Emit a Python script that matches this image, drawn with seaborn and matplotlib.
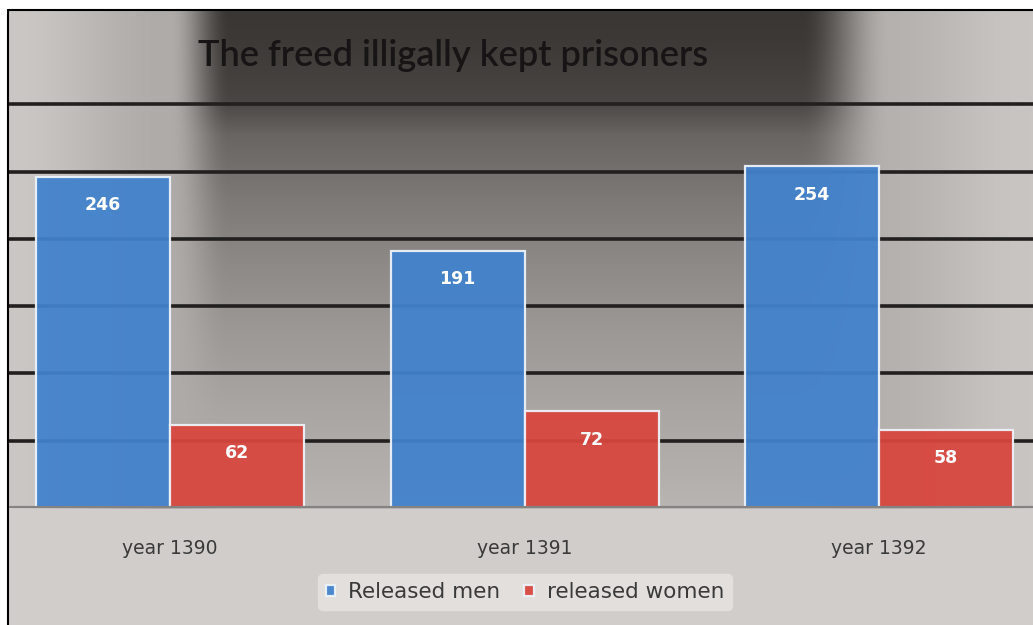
import numpy as np
import pandas as pd
import matplotlib
matplotlib.use("Agg")
import matplotlib.pyplot as plt
import seaborn as sns

# Chart data
years = ["year 1390", "year 1391", "year 1392"]
released_men = [246, 191, 254]
released_women = [62, 72, 58]
series_names = ["Released men", "released women"]
series_colors = ["#4282cd", "#d8463e"]

df = pd.DataFrame({
    "year": years * 2,
    "count": released_men + released_women,
    "group": [series_names[0]] * len(years) + [series_names[1]] * len(years),
})

sns.set_theme(style="white")
plt.rcParams["font.family"] = ["DejaVu Sans"]

W, H = 1033, 625
fig = plt.figure(figsize=(W / 100, H / 100), dpi=100)
fig.patch.set_facecolor("white")

# Metallic gradient backdrop of the chart frame
fx0, fy0 = 8, 10
fw, fh = W - fx0, H - fy0
xs = np.arange(fw) + fx0
ys = np.arange(fh) + fy0

def smooth(t):
    t = np.clip(t, 0, 1)
    return t * t * (3 - 2 * t)

mask_x = smooth((xs - 170) / 60.0) * (1 - smooth((xs - 800) / 90.0))
edge_x = np.where(xs < 400, 200 - 28 * smooth((xs - 8) / 160.0),
                  178 + 20 * smooth((xs - 880) / 150.0))
centre_y = np.interp(ys, [10, 40, 100, 135, 205, 270, 335, 405, 475, 508],
                     [55, 58, 70, 102, 124, 140, 154, 166, 176, 182])
val = edge_x[None, :] * (1 - mask_x[None, :]) + centre_y[:, None] * mask_x[None, :]
val[ys >= 509, :] = 206
rgb = np.stack([val + 2, val - 1, val - 4], axis=-1) / 255.0
rgb = np.clip(rgb, 0, 1)

bg = fig.add_axes([fx0 / W, 0, fw / W, fh / H])
bg.imshow(rgb, aspect="auto", interpolation="bilinear", extent=[0, 1, 0, 1])
bg.set_axis_off()
# frame border on left and top
fig.add_artist(plt.Line2D([fx0 / W, fx0 / W], [0, fh / H], color="black", lw=1.5))
fig.add_artist(plt.Line2D([fx0 / W, 1], [fh / H, fh / H], color="black", lw=1.5))

ax_bottom, ax_top = 508, 37
ax = fig.add_axes([fx0 / W, (H - ax_bottom) / H, fw / W, (ax_bottom - ax_top) / H])
ax.set_facecolor("none")

sns.barplot(data=df, x="year", y="count", hue="group", palette=series_colors,
            saturation=1, width=0.756, gap=0, ax=ax, edgecolor="#eef3fa",
            linewidth=1.6, alpha=0.94, errorbar=None, zorder=3)

ax.set_ylim(0, 350)
ax.set_xlim(-0.457, 2.434)
ax.set_yticks([50, 100, 150, 200, 250, 300])
ax.yaxis.grid(True, color="#221f1f", linewidth=2.6, zorder=1)
ax.set_axisbelow(True)
ax.set_yticklabels([])
ax.tick_params(axis="y", length=0)
ax.axhline(0, color="#858282", linewidth=3, zorder=4)
for s in ax.spines.values():
    s.set_visible(False)
ax.set_xlabel("")
ax.set_ylabel("")
ax.tick_params(axis="x", length=0, pad=22, labelsize=13.5, labelcolor="#3a3a3a")

# value labels inside the top of each bar
for container in ax.containers:
    ax.bar_label(container, labels=[f"{v:.0f}" for v in container.datavalues],
                 label_type="edge", padding=-27, color="white", fontsize=12.5,
                 fontweight="bold", zorder=5)

fig.text(453 / W, 1 - 55 / H, "The freed illigally kept prisoners",
         ha="center", va="center", fontsize=26, color="#161414",
         family=["Lato", "DejaVu Sans"], fontweight="semibold")

leg = ax.legend(loc="center", bbox_to_anchor=((525 - fx0) / fw, (ax_bottom - 592) / (ax_bottom - ax_top)),
                ncol=2, frameon=True, fontsize=15.5, handlelength=0.45, handleheight=0.45,
                handletextpad=0.6, columnspacing=1.1, borderpad=0.35)
leg.get_frame().set_facecolor("#e2dfdc")
leg.get_frame().set_edgecolor("#e2dfdc")
leg.get_frame().set_alpha(1)
for t in leg.get_texts():
    t.set_color("#3a3a3a")

fig.savefig("out.png", dpi=100)
